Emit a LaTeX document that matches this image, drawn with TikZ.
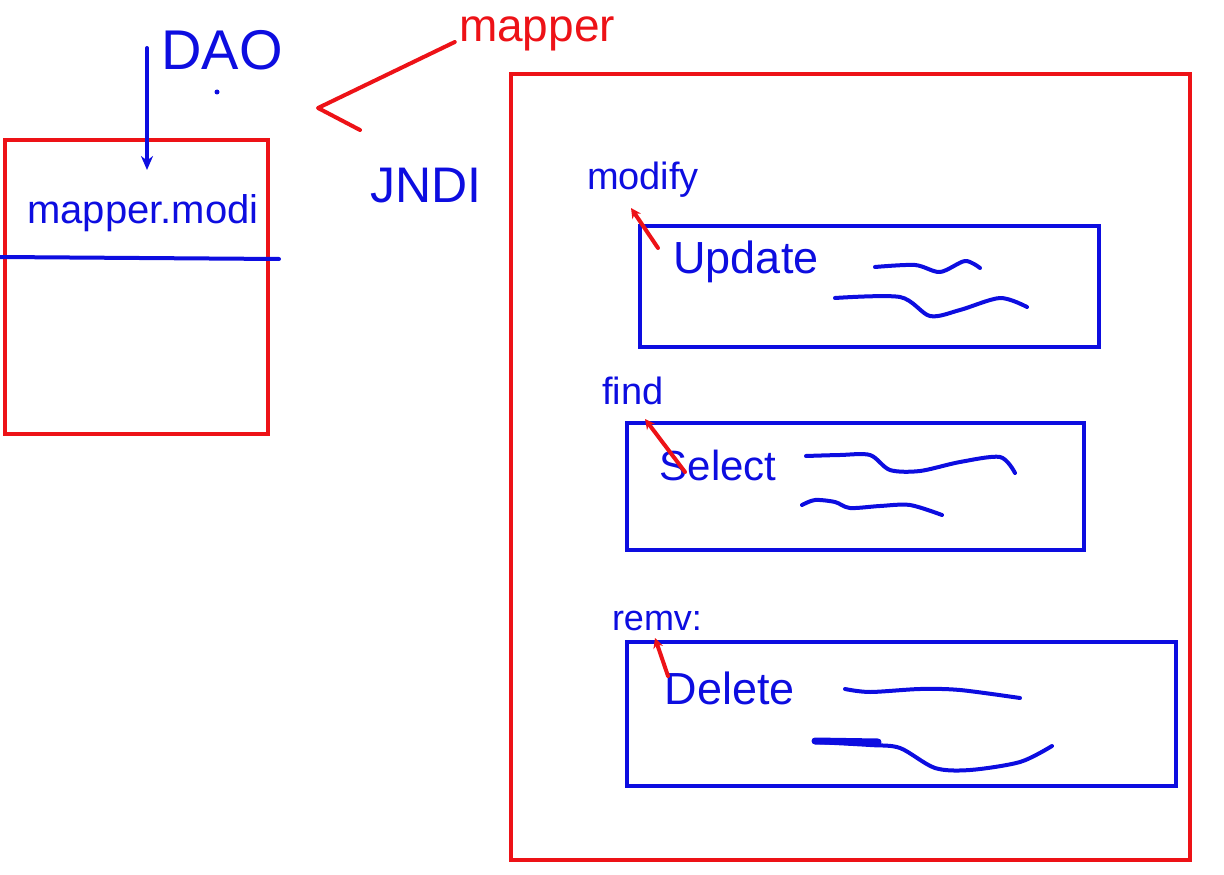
\documentclass[tikz,border=0pt]{standalone}
\usepackage{fontspec}
\setmainfont{Liberation Sans}
\usetikzlibrary{arrows.meta}
\definecolor{PenRed}{rgb}{0.93,0.07,0.09}
\definecolor{PenBlue}{rgb}{0.05,0.05,0.88}

\tikzset{
  redbox/.style={draw=PenRed,line width=4pt,inner sep=0pt},
  bluebox/.style={draw=PenBlue,line width=4pt,inner sep=0pt},
  hand/.style={font=\fontsize{#1}{#1}\selectfont,inner sep=0pt,text=PenBlue},
  redhand/.style={font=\fontsize{#1}{#1}\selectfont,inner sep=0pt,text=PenRed},
  stroke/.style={PenBlue,line width=4pt,line cap=round,line join=round},
  redstroke/.style={PenRed,line width=4pt,line cap=round,line join=round},
}

\begin{document}
\begin{tikzpicture}[x=1pt,y=-1pt]
\useasboundingbox (0,0) rectangle (1224,875);

% DAO side
\node[redbox,minimum width=263pt,minimum height=294pt] (daobox) at (136.5,287) {};
\node[hand=56] (dao) at (222,50) {DAO};
\fill[PenBlue] (217,92) circle (2.5pt);
\coordinate (daotop) at (147,48);
\coordinate (daoin) at (147,170);
\draw[stroke,-{Stealth[length=14pt,width=12pt]}] (daotop) -- (daoin);
\node[hand=40] (call) at (143,213) {mapper.modi};
\coordinate (cutL) at (0,257);
\coordinate (cutR) at (279,259);
\draw[stroke] (cutL) -- (cutR);

\node[redhand=46] (mapper) at (537,34) {mapper};
\coordinate (mtip) at (318,108);
\coordinate (mbarb) at (360,130);
\draw[redstroke] (mapper.west) ++(-4,8) -- (mtip) -- (mbarb);
\node[hand=50] (jndi) at (426,186) {JNDI};

% mapper file
\node[redbox,minimum width=679pt,minimum height=786pt] (xml) at (850.5,467) {};

\node[bluebox,minimum width=459pt,minimum height=121pt] (upd) at (869.5,286.5) {};
\node[hand=38] (modify) at (643,180) {modify};
\node[hand=45] (updt) at (746,262) {Update};
\draw[redstroke,-{Stealth[length=10pt,width=10pt]}] (upd.north west) ++(20,24) -- ([xshift=-7pt,yshift=16pt]upd.north west);
\draw[stroke] plot[smooth] coordinates {(875,267) (915,265) (940,272) (965,261) (980,268)};
\draw[stroke] plot[smooth] coordinates {(835,298) (900,297) (930,316) (960,310) (1000,298) (1027,307)};

\node[bluebox,minimum width=457pt,minimum height=127pt] (sel) at (855.5,486.5) {};
\node[hand=38] (find) at (633,391) {find};
\node[hand=42] (selt) at (718,465) {Select};
\draw[redstroke,-{Stealth[length=10pt,width=10pt]}] (685,472) -- ([xshift=20pt,yshift=2pt]sel.north west);
\draw[stroke] plot[smooth] coordinates {(806,456) (840,455) (870,455) (890,470) (920,471) (960,462) (1000,457) (1015,473)};
\draw[stroke] plot[smooth] coordinates {(802,505) (815,500) (835,502) (850,508) (880,506) (910,505) (942,515)};

\node[bluebox,minimum width=549pt,minimum height=144pt] (del) at (901.5,714) {};
\node[hand=36] (remv) at (657,621) {remv:};
\node[hand=45] (delt) at (730,688) {Delete};
\draw[redstroke,-{Stealth[length=10pt,width=10pt]}] (668,676) -- ([xshift=30pt,yshift=2pt]del.north west);
\draw[stroke] plot[smooth] coordinates {(845,689) (870,692) (920,689) (960,690) (1020,698)};
\draw[stroke] plot[smooth] coordinates {(815,742) (870,745) (900,748) (935,768) (970,770) (1020,762) (1052,746)};
\draw[stroke,line width=7pt] (815,741) -- (878,742);
\end{tikzpicture}
\end{document}
